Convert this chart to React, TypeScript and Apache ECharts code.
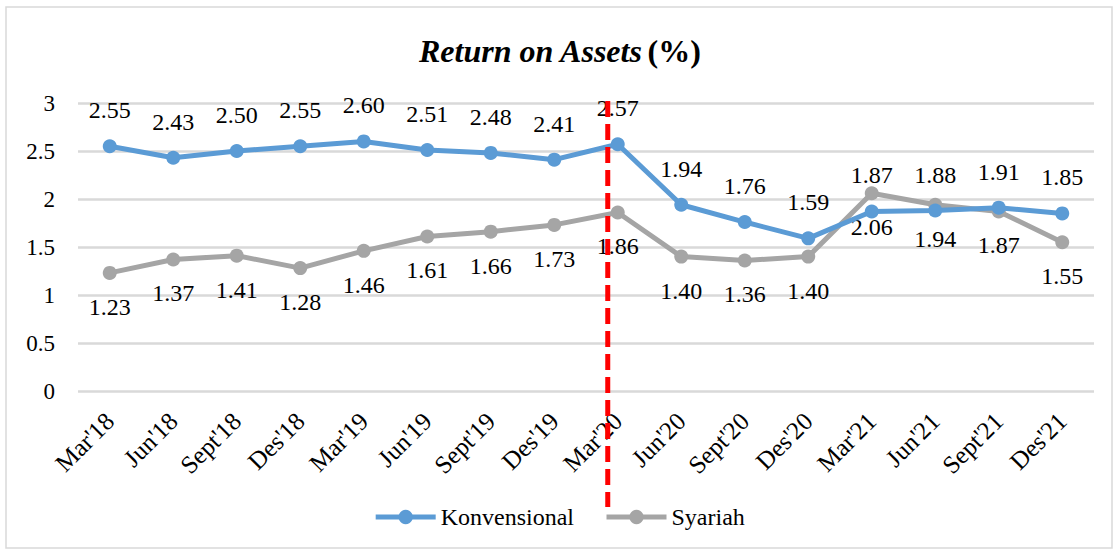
import React, { useEffect, useRef } from "react";
import * as echarts from "echarts";

const categories = ["Mar'18", "Jun'18", "Sept'18", "Des'18", "Mar'19", "Jun'19", "Sept'19", "Des'19", "Mar'20", "Jun'20", "Sept'20", "Des'20", "Mar'21", "Jun'21", "Sept'21", "Des'21"];
const konvensional = [2.55, 2.43, 2.5, 2.55, 2.6, 2.51, 2.48, 2.41, 2.57, 1.94, 1.76, 1.59, 1.87, 1.88, 1.91, 1.85];
const syariah = [1.23, 1.37, 1.41, 1.28, 1.46, 1.61, 1.66, 1.73, 1.86, 1.4, 1.36, 1.4, 2.06, 1.94, 1.87, 1.55];
const markerCategory = "Mar'20";

const FONT = "Liberation Serif";

export default function App() {
  const ref = useRef<HTMLDivElement>(null);
  useEffect(() => {
    if (!ref.current) return;
    const chart = echarts.init(ref.current, null, { renderer: "svg" });
    const labelFmt = (p: any) => Number(p.value).toFixed(2);
    chart.setOption({
      animation: false,
      backgroundColor: "#ffffff",
      textStyle: { fontFamily: FONT, color: "#000" },
      title: {
        text: "{a|Return on Assets} {b|(%)}",
        left: 414,
        top: 30,
        textStyle: {
          rich: {
            a: { fontFamily: FONT, fontSize: 32, fontWeight: "bold", fontStyle: "italic", color: "#000" },
            b: { fontFamily: FONT, fontSize: 32, fontWeight: "bold", color: "#000" },
          },
        },
      },
      legend: {
        bottom: 20,
        left: "center",
        itemWidth: 60,
        itemHeight: 18,
        itemGap: 30,
        lineStyle: { width: 5 },
        textStyle: { fontFamily: FONT, fontSize: 24, color: "#000" },
        data: ["Konvensional", "Syariah"],
      },
      grid: { left: 78, right: 24, top: 103, bottom: 163 },
      xAxis: {
        type: "category",
        data: categories,
        boundaryGap: true,
        axisLine: { show: false },
        axisTick: { show: false },
        axisLabel: { rotate: 45, fontFamily: FONT, fontSize: 25, color: "#000", margin: 26, interval: 0 },
      },
      yAxis: {
        type: "value",
        min: 0,
        max: 3,
        interval: 0.5,
        axisLine: { show: false },
        axisTick: { show: false },
        axisLabel: { fontFamily: FONT, fontSize: 23, color: "#000", margin: 23 },
        splitLine: { lineStyle: { color: "#d9d9d9", width: 2.5 } },
      },
      series: [
        {
          name: "Konvensional",
          type: "line",
          data: konvensional,
          symbol: "circle",
          symbolSize: 14,
          itemStyle: { color: "#5b9bd5" },
          lineStyle: { color: "#5b9bd5", width: 5 },
          label: { show: true, position: "top", distance: 17, formatter: labelFmt, fontFamily: FONT, fontSize: 24, color: "#000" },
          z: 3,
        },
        {
          name: "Syariah",
          type: "line",
          data: syariah,
          symbol: "circle",
          symbolSize: 14,
          itemStyle: { color: "#a5a5a5" },
          lineStyle: { color: "#a5a5a5", width: 5 },
          label: { show: true, position: "bottom", distance: 15, formatter: labelFmt, fontFamily: FONT, fontSize: 24, color: "#000" },
          z: 2,
        },
      ],
    });
    const px = chart.convertToPixel({ xAxisIndex: 0 }, markerCategory) as number;
    const lx = px - 10;
    chart.setOption({
      graphic: [
        {
          type: "rect",
          shape: { x: 6, y: 7, width: 1106, height: 541 },
          style: { fill: "none", stroke: "#d9d9d9", lineWidth: 1.5 },
          z: -1,
          silent: true,
        },
        {
          type: "line",
          shape: { x1: lx, y1: 101, x2: lx, y2: 507 },
          style: { stroke: "#ff0000", lineWidth: 5, lineDash: [16, 7] },
          z: 100,
          silent: true,
        },
      ],
    });
    return () => chart.dispose();
  }, []);
  return (
    <>
      <style>{`#roa-chart text, #roa-chart tspan { font-family: "Liberation Serif", "Times New Roman", serif !important; }`}</style>
      <div id="roa-chart" ref={ref} style={{ position: "absolute", left: 0, top: 0, width: 1118, height: 554 }} />
    </>
  );
}
